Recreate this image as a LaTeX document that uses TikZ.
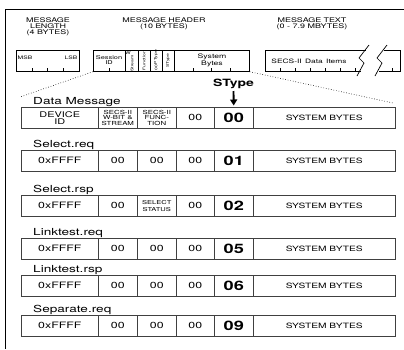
\documentclass[tikz,border=0pt]{standalone}
\usepackage{fontspec}
\setmainfont[FakeStretch=1.4]{TeX Gyre Heros}
\usetikzlibrary{arrows.meta}
\usetikzlibrary{positioning}

\newcommand{\fsz}[2]{\fontsize{#1}{#2}\selectfont}
\newcommand{\stk}[1]{{\fsz{5.4}{5.4}\shortstack{#1}}}

\tikzset{
    frameline/.style={draw=black, line width=0.8pt},
    hdrbox/.style={draw=black, line width=0.7pt, anchor=north west, minimum height=21pt, inner sep=0pt},
    hdrtitle/.style={align=center, inner sep=0pt, font=\fsz{6.4}{6}},
    hdrcell/.style={align=center, inner sep=0pt, font=\fsz{5.3}{5.2}},
    vtext/.style={rotate=90, inner sep=0pt, font=\fsz{3.6}{4}},
    bytetick/.style={draw=black, line width=0.5pt},
    zoomline/.style={draw=black, dotted, line width=0.6pt},
    cell/.style={draw=black!75, line width=0.6pt, anchor=north west, minimum height=21pt,
        inner sep=0pt, align=center, font=\fsz{8.8}{8}},
    stypecell/.style={cell, font=\bfseries\fsz{13}{13}},
    sysbytes/.style={cell, font=\fsz{7.3}{7}},
    rowlabel/.style={anchor=base west, inner sep=0pt, font=\fsz{9.7}{10}},
    sarrow/.style={-{Triangle[length=6pt,width=7pt]}, line width=1.8pt},
}

\begin{document}
\begin{tikzpicture}[x=1pt, y=-1pt]
    \useasboundingbox (0,0) rectangle (404,349);
    \draw[frameline] (404,9) -- (5,9) -- (5,349);
    % message length
    \node[hdrtitle] (lentitle) at (48,27) {MESSAGE\\LENGTH\\(4 BYTES)};
    \node[hdrbox, minimum width=63pt] (lenbox) at (16,50) {};
    \node[inner sep=0pt, font=\fsz{4.8}{5}] (msb) at (25,58) {MSB};
    \node[inner sep=0pt, font=\fsz{4.8}{5}] (lsb) at (71,58) {LSB};
    \foreach \x in {32,47.5,63} \draw[bytetick] (\x,71) -- (\x,68);
    % message header
    \node[hdrtitle] (hdrtitle) at (164,24) {MESSAGE\,\,HEADER\\(10 BYTES)};
    \node[hdrbox, minimum width=156pt] (hdr) at (93,50) {};
    \foreach \x in {125,138,150,162,174} \draw[hdrbox] (\x,50) -- (\x,71);
    \node[hdrcell] (sid) at (109,60) {Session\\ID};
    \node[inner sep=0pt, font=\fsz{4}{4}] (wbit) at (128,53.5) {W};
    \node[vtext] (strm) at (132,63.5) {Stream};
    \node[vtext] (func) at (144,60.5) {Function};
    \node[vtext] (ptype) at (156,57) {PType};
    \node[vtext] (pzero) at (156,67.5) {00};
    \node[vtext] (stb) at (168,60.5) {SType};
    \node[hdrcell, font=\fsz{6.2}{5.8}] (sysb) at (212,60) {System\\Bytes};
    \foreach \x in {109,192.75,211.5,230.25} \draw[bytetick] (\x,71) -- (\x,68);
    % message text
    \node[hdrtitle] (txttitle) at (312,24) {MESSAGE\,\,TEXT\\(0 - 7.9 MBYTES)};
    \draw[hdrbox] (366,50) -- (265,50) -- (265,71) -- (361,71);
    \draw[hdrbox] (384,50) -- (400,50) -- (400,71) -- (379,71);
    \draw[hdrbox] (369,45) -- (359,58) -- (364,63) -- (357,76);
    \draw[hdrbox] (387,45) -- (377,58) -- (382,63) -- (375,76);
    \node[inner sep=0pt, font=\fsz{6}{6}] (items) at (309,61) {SECS-II\, Data\, Items};
    \foreach \x in {280,295,310,325,340,355,392} \draw[bytetick] (\x,71) -- (\x,68);
    % data message
    \node[rowlabel] (dm-lbl) at (33,104) {Data Message};
    \node[cell, minimum width=77pt, font=\fsz{7.8}{7}] (dm-id) at (21,107) {DEVICE\\ID};
    \node[cell, minimum width=39pt, font=\fsz{5.6}{5.4}] (dm-ws) at (98,107) {SECS-II\\W-BIT \&\\STREAM};
    \node[cell, minimum width=39pt, font=\fsz{5.6}{5.4}] (dm-fn) at (137,107) {SECS-II\\FUNC-\\TION};
    \node[cell, minimum width=38pt] (dm-pt) at (176,107) {00};
    \node[stypecell, minimum width=39pt] (dm-st) at (214,107) {00};
    \node[sysbytes, minimum width=142pt] (dm-sb) at (253,107) {SYSTEM BYTES};
    \node[inner sep=0pt, font=\bfseries\fsz{10}{10}] (stype) at (233.5,84) {SType};
    \draw[sarrow, shorten <=2pt, shorten >=1.5pt] (stype) -- (dm-st);
    \coordinate (zl) at (20,97);
    \coordinate (zr) at (393,103);
    \draw[zoomline] (hdr.south west) -- (zl);
    \draw[zoomline] (hdr.south east) -- (zr);
    % control messages
    \foreach \rn/\top/\lbl/\cc/\st in {sreq/150/Select.req/00/01,
        srsp/195/Select.rsp/{\stk{SELECT\\STATUS}}/02,
        lreq/238/Linktest.req/00/05, lrsp/275/Linktest.rsp/00/06,
        sepr/315/Separate.req/00/09}
    {
        \node[rowlabel] (\rn-lbl) at (33,\top-3) {\lbl};
        \node[cell, minimum width=77pt] (\rn-id) at (21,\top) {0xFFFF};
        \node[cell, minimum width=39pt] (\rn-ws) at (98,\top) {00};
        \node[cell, minimum width=39pt] (\rn-fn) at (137,\top) {\cc};
        \node[cell, minimum width=38pt] (\rn-pt) at (176,\top) {00};
        \node[stypecell, minimum width=39pt] (\rn-st) at (214,\top) {\st};
        \node[sysbytes, minimum width=142pt] (\rn-sb) at (253,\top) {SYSTEM BYTES};
    }
\end{tikzpicture}
\end{document}
